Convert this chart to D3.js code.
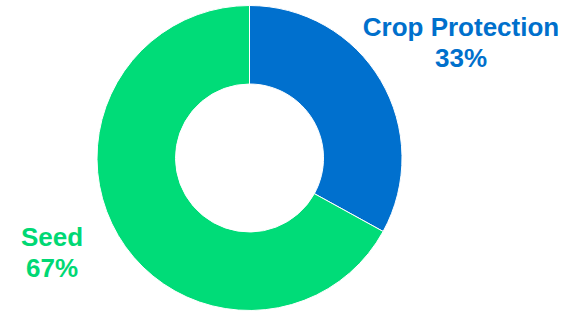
<!DOCTYPE html>
<html>
<head>
<meta charset="utf-8">
<script src="https://d3js.org/d3.v7.min.js"></script>
<style>
  html, body { margin: 0; padding: 0; background: #fff; }
  svg { display: block; }
</style>
</head>
<body>
<svg></svg>
<script>
const size = {w: 587, h: 311};
const categories = ['Crop Protection', 'Seed'];
const shares = [33, 67];
const colors = ['#0070CE', '#00DC78'];

const svg = d3.select('svg')
    .attr('width', size.w)
    .attr('height', size.h);

const center = {x: 249.5, y: 158};
const outerR = 152.5, innerR = 74;

const pie = d3.pie().sort(null).value(d => d);
const arc = d3.arc().innerRadius(innerR).outerRadius(outerR);

const g = svg.append('g')
    .attr('transform', 'translate(' + center.x + ',' + center.y + ')');

g.selectAll('path')
    .data(pie(shares))
    .enter()
    .append('path')
    .attr('d', arc)
    .attr('fill', (d, i) => colors[i])
    .attr('stroke', '#fff')
    .attr('stroke-width', 1);

// labels
const labels = [
    {x: 461, y: 36, color: '#0070CC'},
    {x: 52, y: 246, color: '#00D874'}
];

categories.forEach(function (c, i) {
    const t = svg.append('text')
        .attr('x', labels[i].x)
        .attr('y', labels[i].y)
        .attr('text-anchor', 'middle')
        .attr('fill', labels[i].color)
        .style('font-family', 'Liberation Sans, Arial, sans-serif')
        .style('font-weight', 'bold')
        .style('font-size', '26px');
    t.append('tspan').attr('x', labels[i].x).text(c);
    t.append('tspan').attr('x', labels[i].x).attr('dy', 31).text(shares[i] + '%');
});
</script>
</body>
</html>
